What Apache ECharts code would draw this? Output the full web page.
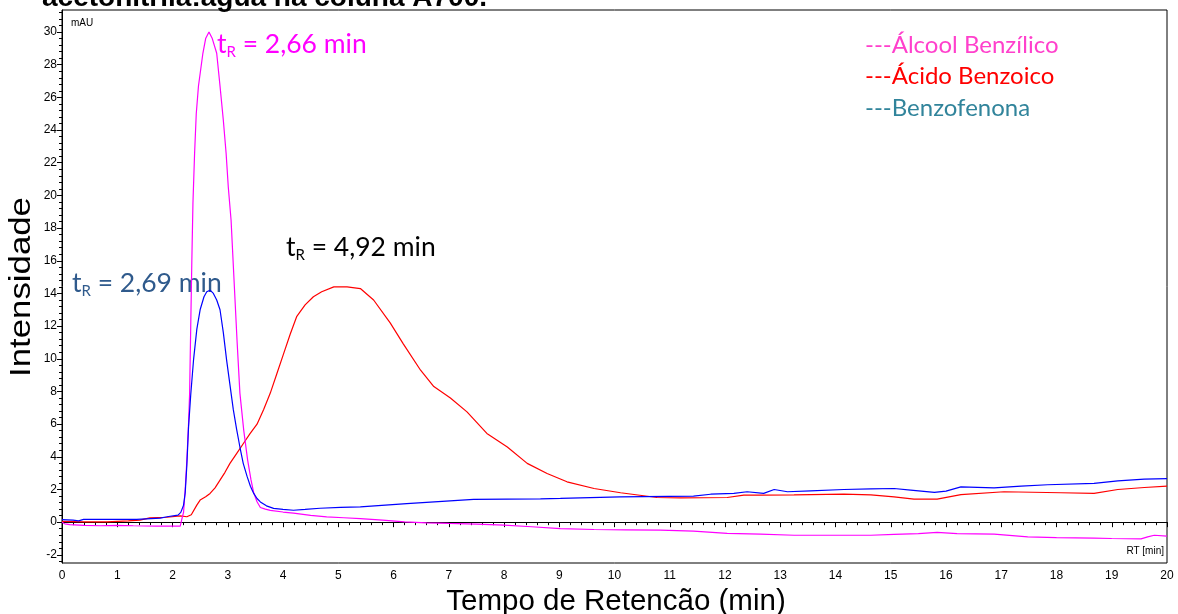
<!DOCTYPE html>
<html><head><meta charset="utf-8">
<script src="https://cdn.jsdelivr.net/npm/echarts@6/dist/echarts.min.js"></script>
<style>html,body{margin:0;padding:0;background:#fff}#c{width:1178px;height:614px}</style>
</head><body><div id="c"></div>
<script>
// ---- data ----
const alcoolT = [0, 0.05, 0.14, 0.4, 0.69, 1.0, 1.29, 1.7, 2.14, 2.17, 2.20, 2.23, 2.26, 2.29, 2.31, 2.33, 2.35, 2.37, 2.40, 2.43, 2.47, 2.55, 2.60, 2.66, 2.72, 2.80, 2.86, 2.92, 2.97, 3.01, 3.06, 3.12, 3.17, 3.22, 3.29, 3.36, 3.42, 3.47, 3.53, 3.59, 3.68, 3.77, 4.0, 4.19, 4.5, 4.79, 5.1, 5.4, 5.8, 6.2, 6.6, 7.0, 7.5, 8.0, 8.5, 9.02, 9.63, 10.2, 10.83, 11.43, 12.04, 12.64, 13.25, 14.0, 14.64, 15.06, 15.5, 15.84, 16.2, 16.87, 17.48, 18.0, 18.68, 19.0, 19.53, 19.65, 19.77, 20];
const alcoolY = [0.0, -0.1, -0.15, -0.2, -0.22, -0.2, -0.22, -0.24, -0.24, 0.2, 0.6, 2.0, 3.8, 6.0, 7.9, 12.0, 16.0, 19.5, 22.6, 25.0, 26.7, 28.7, 29.6, 30.0, 29.6, 28.7, 26.7, 24.6, 22.6, 20.5, 18.5, 14.4, 11.0, 7.9, 5.6, 3.8, 2.6, 1.8, 1.25, 0.9, 0.8, 0.72, 0.62, 0.55, 0.42, 0.32, 0.27, 0.22, 0.12, 0.02, -0.04, -0.08, -0.12, -0.18, -0.28, -0.39, -0.45, -0.47, -0.49, -0.55, -0.69, -0.73, -0.8, -0.8, -0.8, -0.75, -0.7, -0.63, -0.7, -0.73, -0.9, -0.95, -0.98, -1.0, -1.02, -0.9, -0.8, -0.86];

const acidoT = [0, 0.4, 0.81, 1.2, 1.41, 1.59, 1.9, 2.14, 2.26, 2.34, 2.44, 2.5, 2.6, 2.68, 2.77, 2.86, 2.95, 3.04, 3.16, 3.28, 3.4, 3.53, 3.65, 3.77, 3.89, 4.01, 4.13, 4.25, 4.4, 4.55, 4.7, 4.92, 5.04, 5.16, 5.4, 5.64, 5.94, 6.18, 6.49, 6.73, 7.03, 7.33, 7.69, 8.06, 8.42, 8.78, 9.14, 9.63, 10.11, 10.77, 11.2, 12.04, 12.34, 12.64, 13.25, 14.15, 14.64, 15.06, 15.42, 15.84, 16.27, 17.05, 18.08, 18.68, 19.11, 19.59, 20];
const acidoY = [0.05, 0.02, 0.02, 0.08, 0.12, 0.26, 0.3, 0.39, 0.33, 0.45, 1.04, 1.35, 1.55, 1.76, 2.1, 2.57, 3.05, 3.6, 4.2, 4.8, 5.4, 6.0, 6.9, 7.9, 9.1, 10.3, 11.5, 12.6, 13.3, 13.8, 14.1, 14.4, 14.4, 14.4, 14.3, 13.6, 12.2, 10.9, 9.3, 8.3, 7.6, 6.75, 5.43, 4.6, 3.6, 2.98, 2.47, 2.06, 1.8, 1.51, 1.49, 1.51, 1.65, 1.65, 1.67, 1.71, 1.67, 1.55, 1.41, 1.41, 1.69, 1.86, 1.8, 1.76, 2.0, 2.12, 2.2];

const benzoT = [0, 0.2, 0.3, 0.39, 0.8, 1.35, 1.78, 1.9, 2.1, 2.15, 2.2, 2.23, 2.26, 2.29, 2.33, 2.38, 2.44, 2.5, 2.57, 2.62, 2.68, 2.74, 2.80, 2.86, 2.92, 2.98, 3.04, 3.1, 3.16, 3.22, 3.28, 3.35, 3.41, 3.47, 3.53, 3.59, 3.7, 3.83, 4.0, 4.19, 4.4, 4.67, 5.04, 5.4, 6.24, 7.45, 8.66, 9.02, 10.1, 11.43, 11.74, 12.16, 12.4, 12.7, 12.89, 13.13, 13.55, 14.15, 14.64, 15.06, 15.36, 15.79, 16.0, 16.27, 16.87, 17.36, 17.84, 18.68, 19.11, 19.59, 20];
const benzoY = [0.15, 0.12, 0.08, 0.17, 0.17, 0.17, 0.25, 0.33, 0.43, 0.6, 1.04, 1.8, 3.5, 5.8, 7.8, 9.9, 11.8, 13.0, 13.8, 14.1, 14.2, 14.0, 13.6, 13.0, 11.6, 9.9, 8.4, 6.9, 5.7, 4.6, 3.6, 2.8, 2.2, 1.76, 1.45, 1.24, 1.0, 0.84, 0.78, 0.73, 0.78, 0.85, 0.9, 0.94, 1.14, 1.39, 1.43, 1.45, 1.55, 1.59, 1.71, 1.76, 1.86, 1.76, 2.0, 1.86, 1.92, 2.0, 2.04, 2.06, 1.96, 1.82, 1.9, 2.16, 2.1, 2.2, 2.29, 2.37, 2.53, 2.63, 2.67];

const seriesNames = ['Álcool Benzílico', 'Ácido Benzoico', 'Benzofenona'];
const yTickLabels = [-2, 0, 2, 4, 6, 8, 10, 12, 14, 16, 18, 20, 22, 24, 26, 28, 30];
const xTickLabels = [0,1,2,3,4,5,6,7,8,9,10,11,12,13,14,15,16,17,18,19,20];
const peakLabels = ['2,66', '4,92', '2,69'];
const titleText = 'acetonitrila:água na coluna A700.';
const xName = 'Tempo de Retencão (min)';
const yName = 'Intensidade';

function pairs(t, v) { return t.map((x, i) => [x, v[i]]); }
const minorY = [];
for (let k = -6; k <= 78; k++) { minorY.push(+(k * 0.4).toFixed(1)); }

const FONT = 'Liberation Sans, Arial, sans-serif';
const CAL = 'Lato, sans-serif';

function tr(val, color) {
  return {
    text: '{t|t}{s|R}{t| = ' + val + ' min}',
    rich: {
      t: { fontSize: 26.5, lineHeight: 31, fontFamily: CAL, fill: color, color: color },
      s: { fontSize: 15, lineHeight: 17, fontFamily: CAL, verticalAlign: 'bottom', fill: color, color: color }
    },
    align: 'left', verticalAlign: 'top'
  };
}

const chart = echarts.init(document.getElementById('c'), null, { renderer: 'canvas' });
chart.setOption({
  animation: false,
  backgroundColor: '#fff',
  grid: { left: 62, right: 11, top: 10, bottom: 51, containLabel: false, outerBoundsMode: 'none',
          show: true, borderColor: '#000', borderWidth: 1, backgroundColor: 'transparent' },
  xAxis: {
    type: 'value', min: xTickLabels[0], max: xTickLabels[xTickLabels.length - 1], interval: 1,
    axisLine: { show: true, lineStyle: { color: '#000', width: 1 } },
    axisTick: { show: true, length: 5, lineStyle: { color: '#000' } },
    minorTick: { show: true, splitNumber: 5, length: 3, lineStyle: { color: '#000' } },
    splitLine: { show: false },
    axisLabel: { color: '#000', fontSize: 12, fontFamily: FONT, margin: 7 }
  },
  yAxis: [{
    type: 'value', min: -2.5, max: 31.35,
    axisLine: { show: true, lineStyle: { color: '#000', width: 1 } },
    axisTick: { show: true, length: 5, customValues: yTickLabels, lineStyle: { color: '#000' } },
    axisLabel: { color: '#000', fontSize: 12, fontFamily: FONT, margin: 5, customValues: yTickLabels },
    splitLine: { show: false }
  }, {
    type: 'value', min: -2.5, max: 31.35, position: 'left',
    axisLine: { show: false },
    axisTick: { show: true, length: 3, customValues: minorY, lineStyle: { color: '#000' } },
    axisLabel: { show: false, customValues: minorY },
    splitLine: { show: false }
  }],
  legend: {
    orient: 'vertical', left: 855, top: 28, icon: 'none', itemWidth: 0, itemHeight: 10, itemGap: 7.5,
    formatter: '---{name}', selectedMode: false,
    textStyle: { fontFamily: CAL, fontSize: 24, lineHeight: 24 },
    data: [
      { name: seriesNames[0], textStyle: { color: '#ff40cc' } },
      { name: seriesNames[1], textStyle: { color: '#ff0000' } },
      { name: seriesNames[2], textStyle: { color: '#31849b' } }
    ]
  },
  series: [
    { name: seriesNames[1], type: 'line', data: pairs(acidoT, acidoY), showSymbol: false, color: '#ff0000', lineStyle: { width: 1.2, color: '#ff0000' }, z: 2 },
    { name: seriesNames[0], type: 'line', data: pairs(alcoolT, alcoolY), showSymbol: false, color: '#ff00ff', lineStyle: { width: 1.2, color: '#ff00ff' }, z: 3 },
    { name: seriesNames[2], type: 'line', data: pairs(benzoT, benzoY), showSymbol: false, color: '#0000ff', lineStyle: { width: 1.2, color: '#0000ff' }, z: 4 }
  ],
  graphic: [
    { type: 'text', x: 42, y: -2, style: { text: titleText, font: 'bold 28px ' + FONT, fill: '#000', verticalAlign: 'middle', align: 'left' } },
    { type: 'text', x: 71, y: 23, style: { text: 'mAU', font: '10px ' + FONT, fill: '#000', verticalAlign: 'middle', align: 'left' } },
    { type: 'text', x: 1164, y: 551, style: { text: 'RT [min]', font: '10px ' + FONT, fill: '#000', verticalAlign: 'middle', align: 'right' } },
    { type: 'text', x: 616, y: 602, style: { text: xName, font: '29.5px ' + FONT, fill: '#000', verticalAlign: 'middle', align: 'center' } },
    { type: 'text', x: 22, y: 287, rotation: Math.PI / 2, scaleX: 1.2, style: { text: yName, font: '29px ' + FONT, fill: '#000', verticalAlign: 'middle', align: 'center' } },
    { type: 'text', x: 217, y: 29, style: tr(peakLabels[0], '#ff00ff') },
    { type: 'text', x: 286, y: 232, style: tr(peakLabels[1], '#000000') },
    { type: 'text', x: 72, y: 268, style: tr(peakLabels[2], '#2f5a8c') }
  ]
});
</script></body></html>
